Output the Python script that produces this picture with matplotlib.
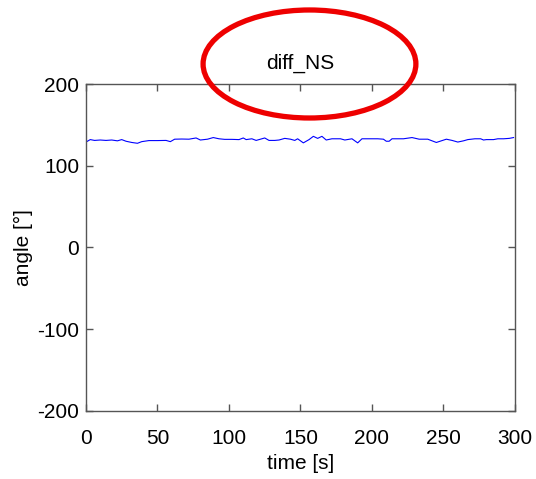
import matplotlib
matplotlib.use("Agg")
import numpy as np
from matplotlib import pyplot as plt
from matplotlib.patches import Ellipse

# values
time_s = [0, 3, 6, 10, 14, 18, 22, 25, 28, 32, 36, 39, 44, 50, 56, 59, 62,
          67, 72, 77, 80, 85, 89, 93, 97, 102, 107, 110, 112, 116, 119, 125,
          128, 132, 135, 139, 143, 146, 148, 152, 156, 159, 162, 165, 168,
          172, 175, 178, 181, 186, 190, 193, 198, 204, 208, 210, 212, 214,
          218, 222, 228, 233, 239, 245, 252, 256, 260, 264, 267, 272, 276,
          278, 280, 285, 288, 292, 296, 299]
angle_deg = [129, 132, 131, 131.5, 131, 131.5, 130.5, 132, 130, 128.5, 127.5,
             129.5, 130.8, 130.8, 131, 129.5, 132.5, 132.7, 132.5, 134, 131.5,
             132.5, 134.5, 133, 132.3, 132.3, 132, 134, 132, 133, 131, 134,
             131, 131, 131.5, 133.5, 132.5, 131, 133, 128, 132, 136, 133.5,
             136, 131.5, 133, 133, 133, 131.5, 133, 128, 133, 133, 133, 132.5,
             130, 130, 133, 133, 133, 134.5, 132.5, 132.5, 128.5, 132.5, 131,
             129, 130.5, 132, 133, 133, 131.5, 132, 132, 133, 133, 133.5,
             134.5]

x_ticks = [0, 50, 100, 150, 200, 250, 300]
y_ticks = [-200, -100, 0, 100, 200]

plt.rcParams['font.family'] = ['Liberation Sans', 'DejaVu Sans']
plt.rcParams['axes.unicode_minus'] = False

fig = plt.figure(figsize=(5.36, 4.79), dpi=100)
ax = fig.add_axes([0.1604, 0.142, 0.8004, 0.6826])

ax.plot(time_s, angle_deg, color='#0000ff', linewidth=0.8)

ax.set_xlim(0, 300)
ax.set_ylim(-200, 200)
ax.set_xticks(x_ticks)
ax.set_yticks(y_ticks)
ax.tick_params(direction='in', top=True, right=True, length=5,
               width=1, color='#555555', labelsize=15)
ax.tick_params(axis='x', pad=13)
ax.tick_params(axis='y', pad=5)
for s in ax.spines.values():
    s.set_color('#555555')
    s.set_linewidth(1)

ax.set_xlabel('time [s]', fontsize=15, labelpad=4)
ax.set_ylabel('angle [°]', fontsize=15, labelpad=3)
ax.set_title('diff_NS', fontsize=15, pad=11)

# red ellipse around the title
ell = Ellipse((0.5774, 0.8664), 0.397, 0.2255, transform=fig.transFigure,
              fill=False, edgecolor='#ee0000', linewidth=3.8, clip_on=False)
fig.patches.append(ell)

fig.savefig('out.png', dpi=100)
